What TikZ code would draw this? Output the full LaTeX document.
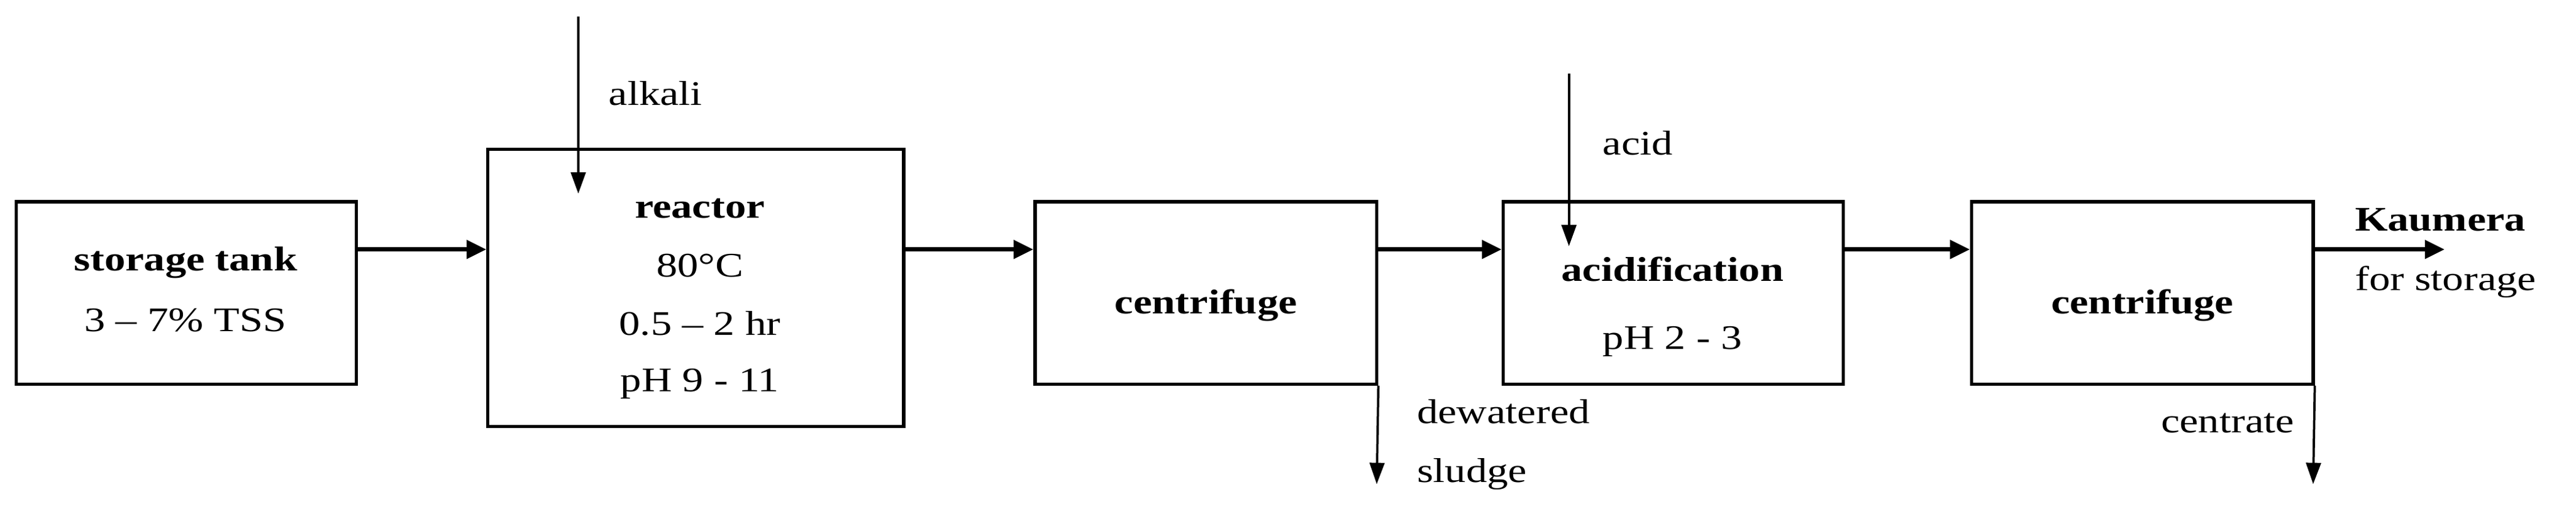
\documentclass[tikz,border=0pt]{standalone}
\usepackage{fontspec}
\setmainfont{Liberation Serif}[FakeStretch=1.22]
\usetikzlibrary{arrows.meta}
\begin{document}
\begin{tikzpicture}[x=1pt,y=-1pt,
  box/.style={draw,line width=2pt,minimum width=#1,inner sep=0pt},
  flow/.style={line width=2.6pt,-{Triangle[length=12pt,width=11pt]}},
  side/.style={line width=1.4pt,-{Triangle[length=13pt,width=9pt]}},
  txt/.style={font=\fontsize{21}{24}\selectfont},
  btxt/.style={font=\fontsize{21}{24}\selectfont\bfseries},
  lbl/.style={txt,anchor=west}]
\useasboundingbox (0,0) rectangle (1568,310);
\node[box=207pt,minimum height=111pt] (st) at (113.5,178.5) {};
\node[box=253pt,minimum height=169pt] (re) at (423.5,175.5) {};
\node[box=208pt,minimum height=111pt] (c1) at (734,178.5) {};
\node[box=207pt,minimum height=111pt] (ac) at (1018.5,178.5) {};
\node[box=208pt,minimum height=111pt] (c2) at (1304,178.5) {};
\node[btxt] (t1) at (113,160) {storage tank};
\node[txt] (t2) at (113,195) {3 – 7\% TSS};
\node[btxt] (r1) at (426,127) {reactor};
\node[txt] (r2) at (426,162) {80°C};
\node[txt] (r3) at (426,197) {0.5 – 2 hr};
\node[txt] (r4) at (426,234) {pH 9 - 11};
\node[btxt] (cf1) at (734,186) {centrifuge};
\node[btxt] (a1) at (1018,164) {acidification};
\node[txt] (a2) at (1018,208) {pH 2 - 3};
\node[btxt] (cf2) at (1304,186) {centrifuge};
\coordinate (alk0) at (352,10);
\coordinate (alk1) at (352,118);
\coordinate (acd0) at (955,45);
\coordinate (acd1) at (955,150);
\coordinate (dw) at (838,295);
\coordinate (ce) at (1408,295);
\coordinate (ka) at (1488,152);
\draw[flow] (st.east |- 0,152) -- (re.west |- 0,152);
\draw[flow] (re.east |- 0,152) -- (c1.west |- 0,152);
\draw[flow] (c1.east |- 0,152) -- (ac.west |- 0,152);
\draw[flow] (ac.east |- 0,152) -- (c2.west |- 0,152);
\draw[flow] (c2.east |- 0,152) -- (ka);
\draw[side] (alk0) -- (alk1);
\draw[side] (acd0) -- (acd1);
\draw[side] (c1.south east) -- (dw);
\draw[side] (c2.south east) -- (ce);
\node[lbl] (l1) at (367,57) {alkali};
\node[lbl] (l2) at (972,87) {acid};
\node[lbl] (l3) at (859,251) {dewatered};
\node[lbl] (l4) at (859,289) {sludge};
\node[txt,anchor=east] (l5) at (1400,258) {centrate};
\node[btxt,anchor=west] (l6) at (1430,134) {Kaumera};
\node[lbl] (l7) at (1430,172) {for storage};
\end{tikzpicture}
\end{document}
